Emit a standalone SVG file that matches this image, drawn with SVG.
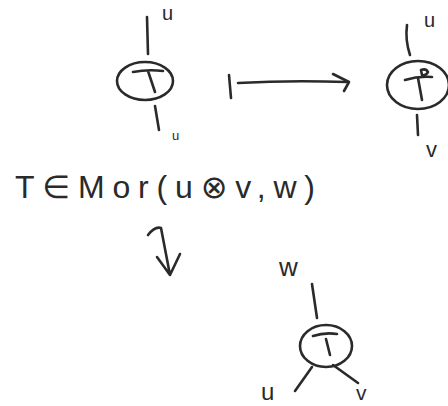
<svg xmlns="http://www.w3.org/2000/svg" width="448" height="406" viewBox="0 0 448 406">
<style>
.s{fill:none;stroke:#2a2a2a;stroke-width:2.6;stroke-linecap:round;stroke-linejoin:round}
.t{font-family:"Liberation Sans","DejaVu Sans",sans-serif;fill:#2a2a2a}
</style>
<rect width="448" height="406" fill="#ffffff"/>
<g id="node-left">
<path class="s" d="M147,17 L148,54"/>
<ellipse class="s" cx="145" cy="81" rx="28" ry="19"/>
<path class="s" d="M133,72 Q148,69 163,71 M148,71 L155,92"/>
<path class="s" d="M155,106 L159,130"/>
<text class="t" x="162" y="20" font-size="20">u</text>
<text class="t" x="172" y="140" font-size="13">u</text>
</g>
<g id="node-right">
<path class="s" d="M407,25 Q405,40 410,55"/>
<ellipse class="s" cx="418" cy="85" rx="31" ry="24"/>
<path class="s" d="M405,80 Q418,76 432,77 M418,78 L422,100"/>
<path class="s" d="M421,70 q5,-2 7,2 q-2,4 -6,3 z" stroke-width="2"/>
<path class="s" d="M417,115 L418,135"/>
<text class="t" x="424" y="27" font-size="20">u</text>
<text class="t" x="426" y="157" font-size="22">v</text>
</g>
<g id="node-bottom">
<ellipse class="s" cx="326" cy="346" rx="26" ry="21"/>
<path class="s" d="M313,336 Q325,332 337,334 M326,339 L330,355"/>
<path class="s" d="M312,284 L317,318"/>
<path class="s" d="M312,367 L295,391"/>
<path class="s" d="M333,365 L358,383"/>
<text class="t" x="279" y="276" font-size="26">w</text>
<text class="t" x="261" y="400" font-size="24">u</text>
<text class="t" x="356" y="400" font-size="21">v</text>
</g>
<g id="connectors">
<path class="s" d="M229,75 L231,98"/>
<path class="s" d="M238,83 Q290,80 347,82"/>
<path class="s" d="M333,74 L349,82 L344,91"/>
<path class="s" d="M148,235 Q155,226 161,228 L170,275 M157,257 L170,275 L180,254"/>
</g>
<text class="t" x="15" y="198" font-size="32" textLength="300" lengthAdjust="spacing">T∈Mor(u⊗v,w)</text>
</svg>
